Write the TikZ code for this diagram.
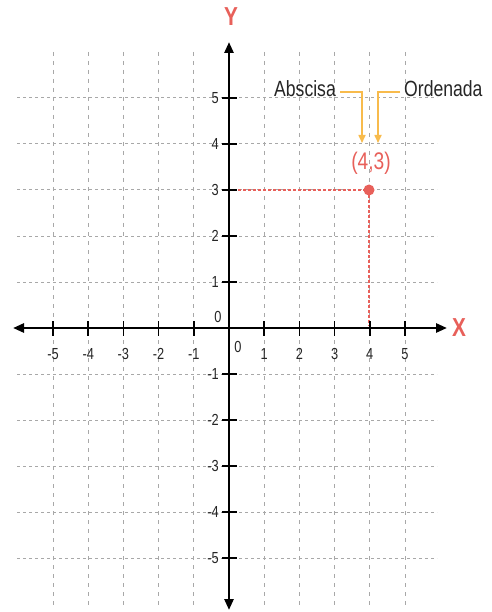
\documentclass[tikz,border=0pt]{standalone}
\usepackage{fontspec}
\setmainfont[FakeStretch=0.8]{Liberation Sans}
\usetikzlibrary{arrows.meta}
\definecolor{ptred}{HTML}{E8605A}
\definecolor{orng}{HTML}{F8BB4C}
\definecolor{gridgray}{HTML}{A8A8A8}
\begin{document}
\begin{tikzpicture}[x=1pt,y=-1pt,
  gridv/.style={gridgray, line width=0.9pt, dash pattern=on 4pt off 5pt},
  gridh/.style={gridgray, line width=1pt, dash pattern=on 3pt off 3pt},
  axisline/.style={line width=2.6pt, {Triangle[length=11pt,width=9pt]}-{Triangle[length=11pt,width=9pt]}},
  tickmark/.style={line width=1.6pt},
  ticklab/.style={font=\fontsize{16}{16}\selectfont, text=black!85, inner sep=0pt},
  axlab/.style={font=\fontsize{26}{26}\selectfont\bfseries, text=ptred, inner sep=0pt},
  reddash/.style={ptred, line width=2.4pt, dash pattern=on 3pt off 2pt},
  callout/.style={orng, line width=1.6pt, -{Triangle[length=8pt,width=7pt]}},
  calltext/.style={font=\fontsize{22}{22}\selectfont, text=black!85, inner sep=0pt}
]
\useasboundingbox (0,0) rectangle (491,612);
\fill[white] (0,0) rectangle (491,612);
% grid
\foreach \i in {-5,-4,-3,-2,-1,1,2,3,4,5}{
  \draw[gridv] ({229+35.2*\i},52) -- ({229+35.2*\i},606);
  \draw[gridh] (17,{328-46*\i}) -- (437,{328-46*\i});
}
% red guides
\draw[reddash] (233,190) -- (369,190);
\draw[reddash] (369,190) -- (369,326);
% axes
\draw[axisline] (13,328) -- (447,328);
\draw[axisline] (229,610) -- (229,42);
% ticks and labels
\foreach \i in {-5,-4,-3,-2,-1,1,2,3,4,5}{
  \draw[tickmark] ({229+35.2*\i},321) -- ({229+35.2*\i},336);
  \draw[tickmark] (222,{328-46*\i}) -- (237,{328-46*\i});
  \node[ticklab] at ({229+35.2*\i},354) {\i};
  \node[ticklab, anchor=east] at (219,{328-46*\i}) {\i};
}
\node[ticklab] (zerotop) at (218,317) {0};
\node[ticklab] (zerobot) at (238,347) {0};
\node[axlab] (ylab) at (231,17) {Y};
\node[axlab] (xlab) at (459,328) {X};
% point
\node[circle, fill=ptred, inner sep=0pt, minimum size=11pt] (pt) at (369,190) {};
\node[font=\fontsize{24}{24}\selectfont, text=ptred, inner sep=0pt] (coord) at (371,163) {(4,3)};
% callouts
\node[calltext, anchor=east] (absc) at (336,89) {Abscisa};
\node[calltext, anchor=west] (orden) at (404,89) {Ordenada};
\coordinate (a1) at (340,92);
\coordinate (a2) at (362,92);
\coordinate (a3) at (362,143);
\coordinate (o1) at (400,92);
\coordinate (o2) at (378,92);
\coordinate (o3) at (378,143);
\draw[callout] (a1) -- (a2) -- (a3);
\draw[callout] (o1) -- (o2) -- (o3);
\end{tikzpicture}
\end{document}
